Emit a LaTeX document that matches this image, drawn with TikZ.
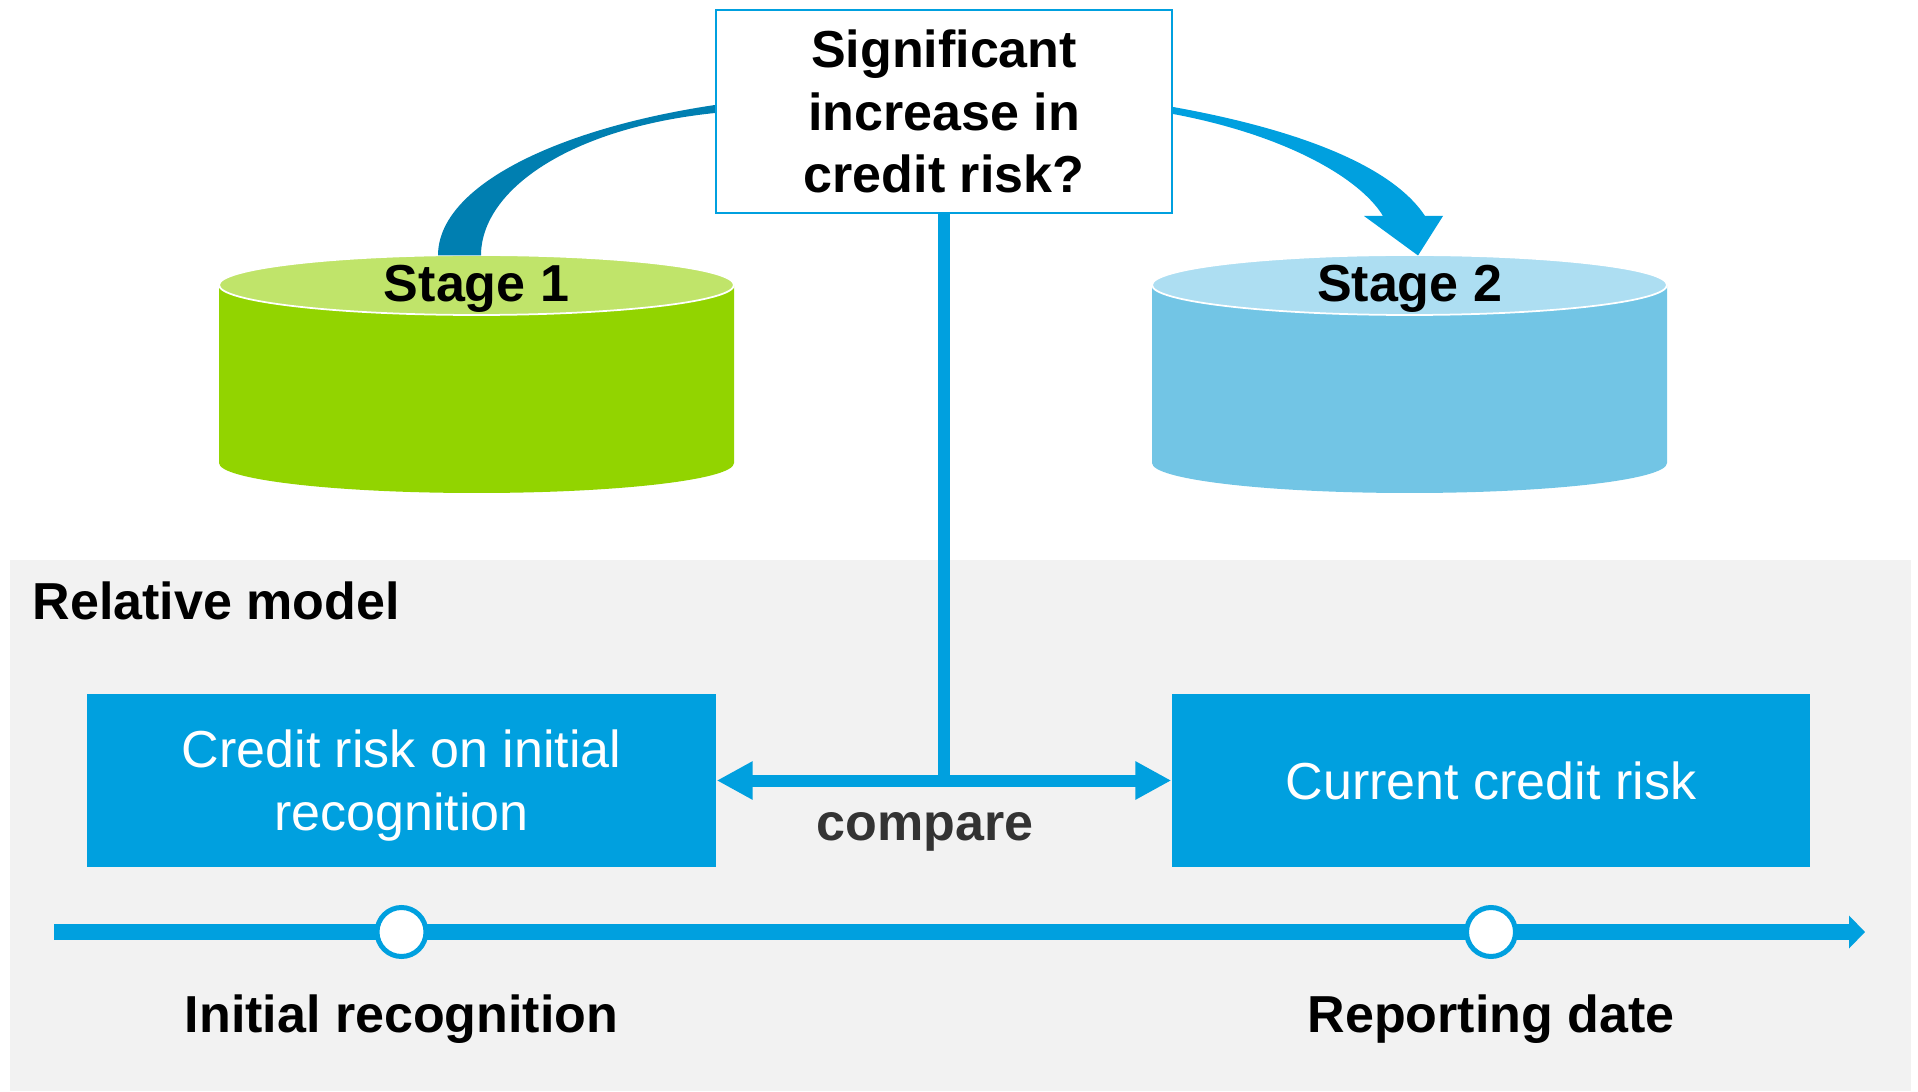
\documentclass[tikz,border=0pt]{standalone}
\usepackage{fontspec}
\setmainfont{Liberation Sans}
\usetikzlibrary{arrows.meta,positioning,calc}
\definecolor{ifrsblue}{RGB}{0,160,223}
\definecolor{darkarc}{RGB}{0,127,177}
\definecolor{paleground}{RGB}{242,242,242}
\definecolor{greenbody}{RGB}{146,212,0}
\definecolor{greentop}{RGB}{192,228,106}
\definecolor{bluebody}{RGB}{114,197,229}
\definecolor{bluetop}{RGB}{173,222,242}
\definecolor{comparegrey}{RGB}{51,51,51}

\begin{document}
\begin{tikzpicture}[
  qbox/.style={draw=ifrsblue,line width=0.6pt,fill=white,minimum width=45.6mm,minimum height=20.3mm,align=center,
    font=\fontsize{14.8pt}{17.9pt}\selectfont\bfseries},
  riskbox/.style={fill=ifrsblue,text=white,minimum height=17.3mm,align=center,inner sep=0,
    font=\fontsize{14.8pt}{17.9pt}\selectfont},
  lbl/.style={inner sep=0,font=\fontsize{14.8pt}{17.9pt}\selectfont\bfseries},
  link/.style={ifrsblue,line width=1.2mm},
  dot/.style={circle,draw=ifrsblue,fill=white,line width=0.5mm,minimum size=4.9mm,inner sep=0}
]
\useasboundingbox (0,0) rectangle (19.18,10.91);
\fill[paleground] (0.10,0) rectangle (19.11,5.31);

\node[qbox] (q) at (9.44,9.795) {Significant\\increase in\\credit risk?};

% stage drums
\fill[greenbody] (2.19,8.06) -- (2.19,6.28) arc[start angle=180,end angle=360,x radius=2.575cm,y radius=0.30cm] -- (7.34,8.06) -- cycle;
\filldraw[fill=greentop,draw=white,line width=0.5pt] (4.765,8.06) ellipse[x radius=2.575cm,y radius=0.30cm];
\fill[bluebody] (11.52,8.06) -- (11.52,6.28) arc[start angle=180,end angle=360,x radius=2.575cm,y radius=0.30cm] -- (16.67,8.06) -- cycle;
\filldraw[fill=bluetop,draw=white,line width=0.5pt] (14.095,8.06) ellipse[x radius=2.575cm,y radius=0.30cm];
\coordinate (s1top) at (4.765,8.355);
\coordinate (s2top) at (14.095,8.355);
\node[lbl,anchor=base] (s1) at (4.765,7.89) {Stage 1};
\node[lbl,anchor=base] (s2) at (14.095,7.89) {Stage 2};

% curved arrows
\fill[darkarc] ($(q.west)+(0,0.065)$) .. controls (5.60,9.63) and (4.38,9.06) .. ($(s1top)+(-0.385,0)$)
  -- ($(s1top)+(0.045,0)$) .. controls (4.81,9.01) and (5.70,9.63) .. ($(q.west)+(0,-0.015)$) -- cycle;
\fill[ifrsblue] ($(q.east)+(0,0.045)$) .. controls (12.90,9.63) and (13.90,9.28) .. (14.25,8.75)
  -- (14.43,8.75) -- ($(s2top)+(0.085,0)$) -- (13.64,8.75) -- (13.83,8.75)
  .. controls (13.60,9.13) and (12.85,9.56) .. ($(q.east)+(0,-0.025)$) -- cycle;

\node[lbl,anchor=base west] (rel) at (0.32,4.71) {Relative model};

\node[riskbox,minimum width=62.9mm,text depth=0pt] (b1) at (4.015,3.105) {Credit risk on initial\\recognition};
\node[riskbox,minimum width=63.8mm] (b2) at (14.91,3.105) {Current credit risk};

\draw[link] (q.south) -- (q.south |- b1.east);
\draw[link,{Triangle[length=3.6mm,width=3.6mm]}-{Triangle[length=3.6mm,width=3.6mm]}] (b1.east) -- (b2.west);
\node[lbl,text=comparegrey,anchor=base] (cmp) at (9.25,2.51) {compare};

% time line
\coordinate (t0) at (0.54,1.59);
\coordinate (t1) at (18.65,1.59);
\draw[ifrsblue,line width=1.6mm,-{Triangle[length=1.6mm,width=3.2mm]}] (t0) -- (t1);
\node[dot] (c1) at (b1 |- t0) {};
\node[dot] (c2) at (b2 |- t0) {};
\node[lbl,below=3.5mm of c1] (l1) {Initial recognition};
\node[lbl,below=3.5mm of c2] (l2) {Reporting date};
\end{tikzpicture}
\end{document}
